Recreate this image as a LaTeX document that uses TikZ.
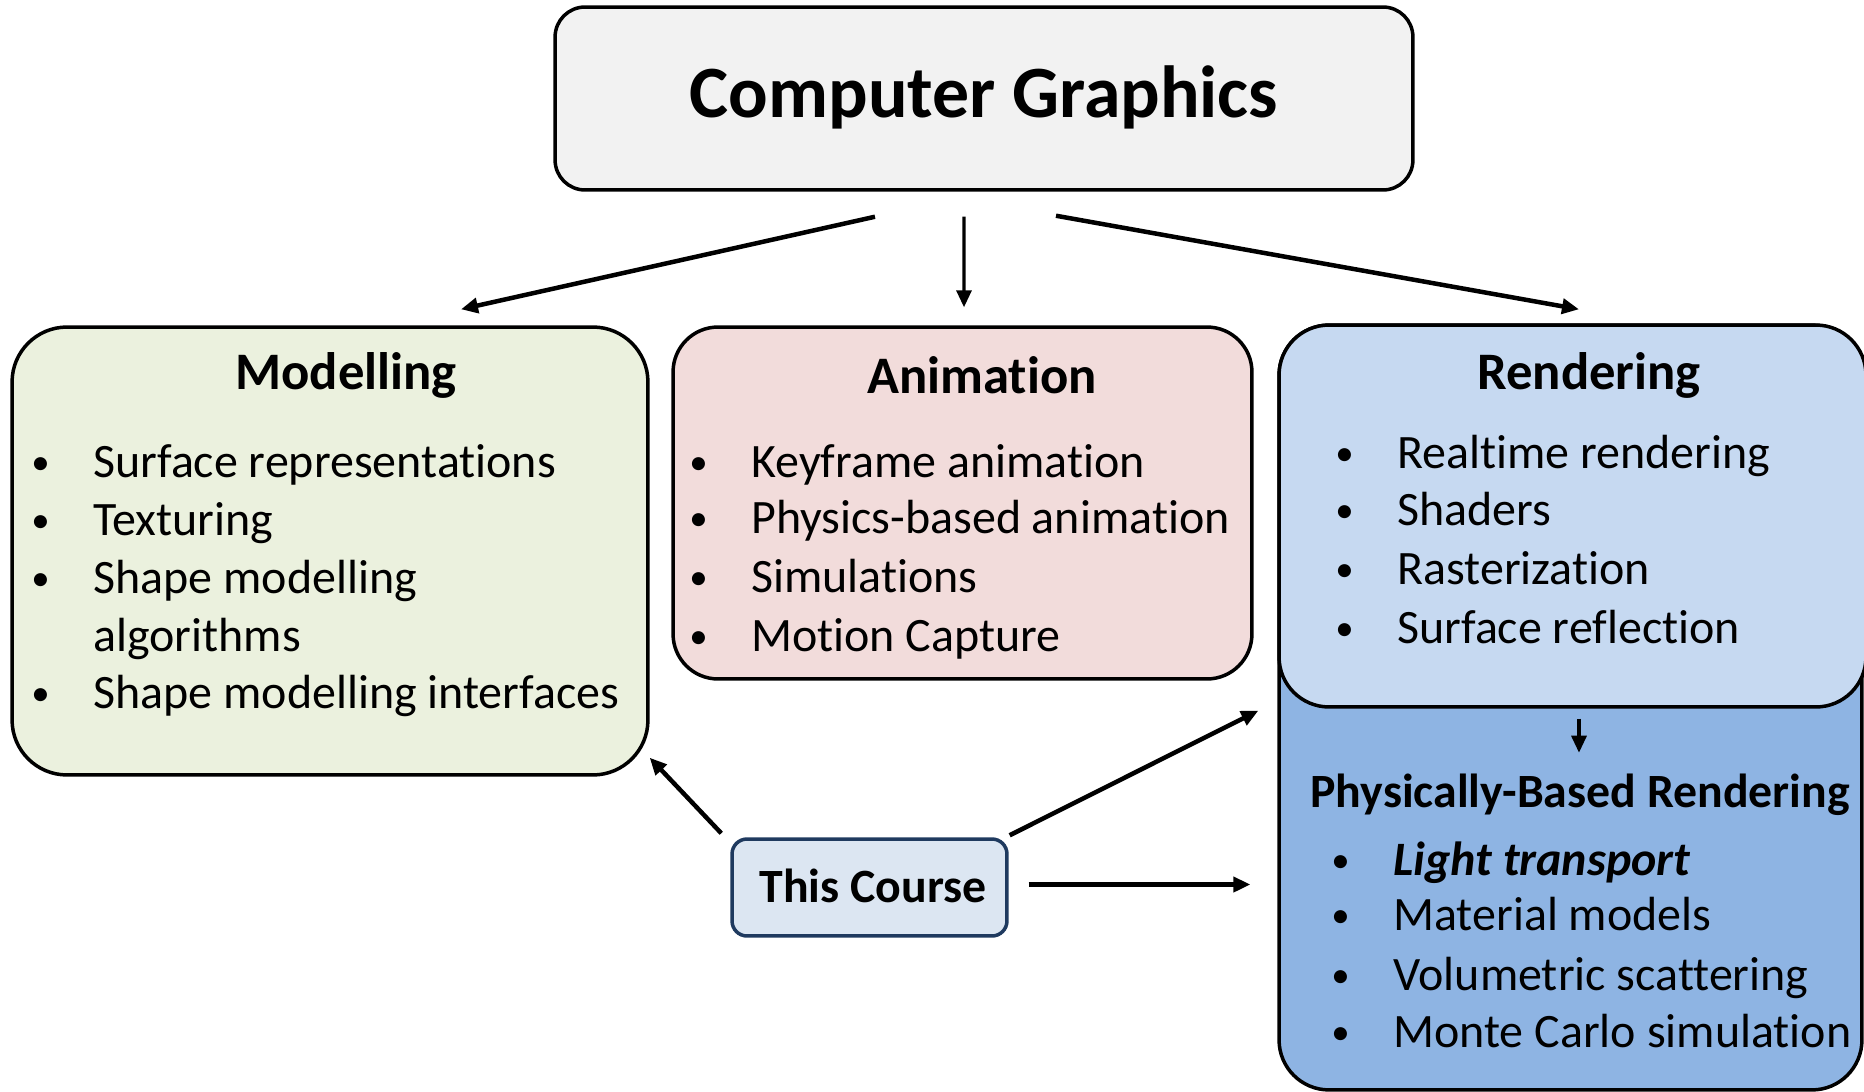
\documentclass[tikz,border=0pt]{standalone}
\usepackage{fontspec}
\setmainfont{Carlito}[Ligatures=NoCommon]
\usepackage{tikz}
\usetikzlibrary{arrows.meta, positioning, calc}
\definecolor{cgfill}{HTML}{F2F2F2}
\definecolor{modfill}{HTML}{EBF1DE}
\definecolor{animfill}{HTML}{F2DCDB}
\definecolor{rendfill}{HTML}{C6D9F1}
\definecolor{pbrfill}{HTML}{8EB4E3}
\definecolor{coursefill}{HTML}{DCE6F2}
\definecolor{courseline}{HTML}{1F3A5F}

\newcommand{\bitem}[1]{\llap{\makebox[1.24cm][l]{\raisebox{0.06em}{\fontsize{21}{21}\selectfont\mdseries\upshape •}}}#1}

\begin{document}
\begin{tikzpicture}[
    x=0.02cm, y=-0.02cm,
    box/.style={
        rectangle, draw=black, line width=0.07cm, inner sep=0pt,
    },
    head/.style={anchor=base, inner sep=0pt, font=\fontsize{30}{36}\selectfont\bfseries},
    subhead/.style={anchor=base, inner sep=0pt, font=\fontsize{27.2}{32}\selectfont\bfseries},
    item/.style={anchor=base west, inner sep=0pt, font=\fontsize{27.3}{32}\selectfont},
    arr/.style={line width=0.09cm, -{Triangle[length=0.34cm,width=0.3cm]}},
]
\useasboundingbox (0,0) rectangle (1864,1092);
\clip (0,0) rectangle (1864,1092);

% ── Boxes ───────────────────────────────────────────────────────────────────
\node[box, fill=cgfill, rounded corners=0.6cm,
      minimum width=17.16cm, minimum height=3.66cm] (cg) at (984,98.5) {};
\node[anchor=base, inner sep=0pt, font=\fontsize{42}{50}\selectfont\bfseries]
      (cgtitle) at (984,117) {Computer Graphics};

\node[box, fill=modfill, rounded corners=1.1cm,
      minimum width=12.72cm, minimum height=8.96cm] (mod) at (330,551) {};
\node[box, fill=animfill, rounded corners=0.9cm,
      minimum width=11.58cm, minimum height=7.04cm] (anim) at (962.5,503) {};
\node[box, fill=pbrfill, rounded corners=1.0cm,
      minimum width=11.66cm, minimum height=15.3cm] (pbr) at (1570.5,707.5) {};
\node[box, fill=rendfill, rounded corners=1.0cm,
      minimum width=11.74cm, minimum height=7.64cm] (rend) at (1572.5,516) {};
\node[box, draw=courseline, fill=coursefill, rounded corners=0.3cm,
      minimum width=5.5cm, minimum height=1.94cm] (course) at (869.5,887.5) {};

% ── Modelling ───────────────────────────────────────────────────────────────
\node[head] (modhead) at (346,389) {Modelling};
\node[item] at (93,477) {\bitem{Surface representations}};
\node[item] at (93,535) {\bitem{Texturing}};
\node[item] at (93,593) {\bitem{Shape modelling}};
\node[item] at (93,651) {algorithms};
\node[item] at (93,708) {\bitem{Shape modelling interfaces}};

% ── Animation ───────────────────────────────────────────────────────────────
\node[head] (animhead) at (982,393) {Animation};
\node[item] at (751,477) {\bitem{Keyframe animation}};
\node[item] at (751,533) {\bitem{Physics-based animation}};
\node[item] at (751,592) {\bitem{Simulations}};
\node[item] at (751,651) {\bitem{Motion Capture}};

% ── Rendering ───────────────────────────────────────────────────────────────
\node[head] (rendhead) at (1589,389) {Rendering};
\node[item] at (1397,468) {\bitem{Realtime rendering}};
\node[item] at (1397,525) {\bitem{Shaders}};
\node[item] at (1397,584) {\bitem{Rasterization}};
\node[item] at (1397,643) {\bitem{Surface reflection}};

% ── Physically-Based Rendering ──────────────────────────────────────────────
\node[subhead] (pbrhead) at (1580,807) {Physically-Based Rendering};
\node[item] at (1393,875) {\bitem{\bfseries\itshape Light transport}};
\node[item] at (1393,930) {\bitem{Material models}};
\node[item] at (1393,990) {\bitem{Volumetric scattering}};
\node[item] at (1393,1047) {\bitem{Monte Carlo simulation}};

% ── This Course ─────────────────────────────────────────────────────────────
\node[subhead] (coursetext) at (873,902) {This Course};

% ── Arrows ──────────────────────────────────────────────────────────────────
\draw[arr] ($(cg.south)+(-109,25)$) -- ($(mod.north)+(131,-16)$);
\draw[arr, line width=0.065cm] ($(cg.south)+(-20,25)$) -- ($(anim.north)+(1.5,-18)$);
\draw[arr] ($(cg.south)+(72,24)$) -- ($(rend.north)+(6.5,-14)$);
\draw[arr, line width=0.065cm] ($(rend.south)+(6.5,10)$) -- ($(rend.south)+(6.5,44)$);

\draw[arr] ($(course.north west)+(-9,-4)$) -- ($(mod.south east)+(0,-19)$);
\draw[arr] ($(course.north east)+(1,-2)$) -- ($(rend.south west)+(-19,2)$);
\draw[arr] ($(course.east)+(20,-3)$) -- ($(course.east -| pbr.west)+(-27,-3)$);

\end{tikzpicture}
\end{document}
